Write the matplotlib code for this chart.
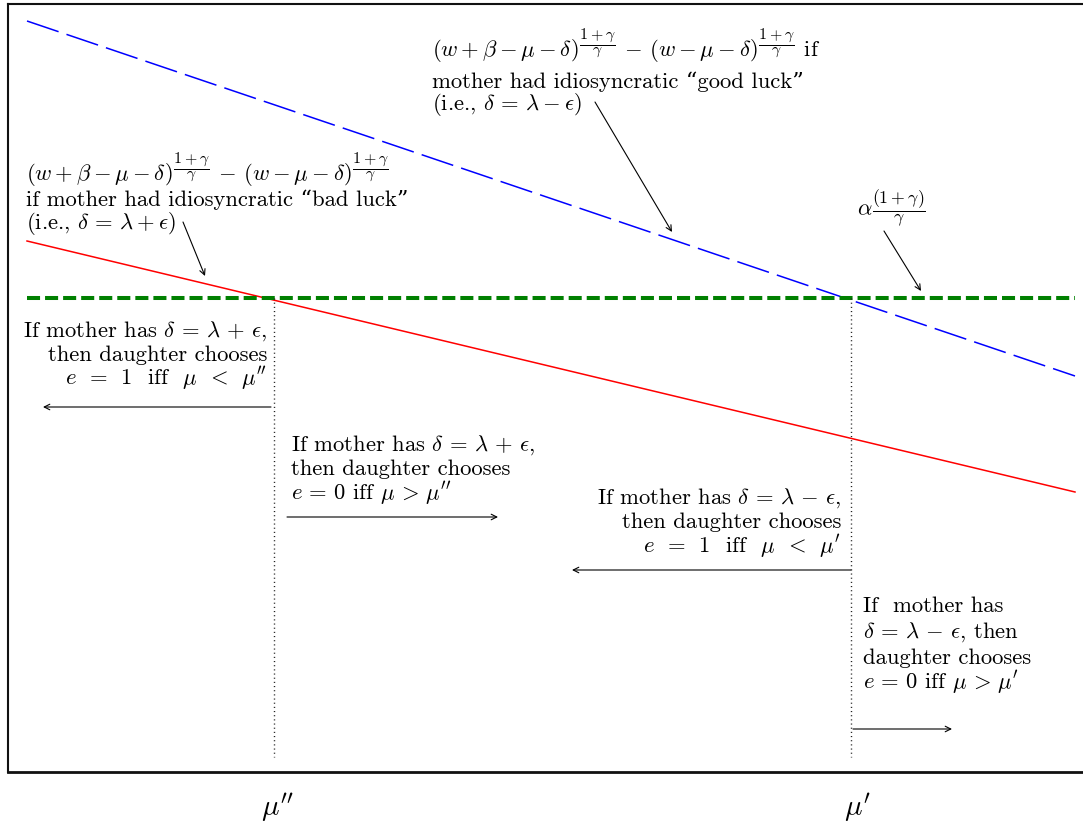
import matplotlib
matplotlib.use("Agg")
import matplotlib.pyplot as plt

plt.rcParams['font.family'] = ['cmr10', 'DejaVu Serif']
plt.rcParams['mathtext.fontset'] = 'cm'
plt.rcParams['axes.unicode_minus'] = False
plt.rcParams['lines.scale_dashes'] = False

# ---- schematic values (horizontal: mu, vertical: payoff, drawn in a canvas-like scale) ----
mu_ends = [27, 1075]
good_luck_curve = [21, 376]      # blue dashed
bad_luck_curve = [241, 492]      # red solid
alpha_level = 298                # green dashed threshold
mu_double_prime = 274
mu_prime = 851
dotted_bottom = 757
tick_labels = [r"$\mu''$", r"$\mu'$"]

W, H = 1083, 825
fig = plt.figure(figsize=(W / 100, H / 100), dpi=100)
ax = fig.add_axes([8 / W, (H - 772) / H, (1110 - 8) / W, (772 - 4) / H])
ax.set_xlim(8, 1110)
ax.set_ylim(772, 4)

for s in ['left', 'top']:
    ax.spines[s].set_linewidth(1.5)
ax.spines['bottom'].set_linewidth(2.0)
ax.spines['right'].set_visible(False)
for s in ax.spines.values():
    s.set_color('#111111')

# curves
ax.plot(mu_ends, good_luck_curve, color='#0000ff', lw=1.1, dashes=(24, 6))
ax.plot(mu_ends, bad_luck_curve, color='#ff0000', lw=1.1)
ax.plot(mu_ends, [alpha_level, alpha_level], color='#008000', lw=2.9, dashes=(9.4, 3.6))

# dotted verticals
for m in [mu_double_prime, mu_prime]:
    ax.plot([m, m], [alpha_level, dotted_bottom], color='#222222', lw=1.0, dashes=(0.8, 2.2))

ax.set_xticks([mu_double_prime + 3, mu_prime + 6])
ax.set_xticklabels(tick_labels, fontsize=21)
ax.tick_params(axis='x', length=0, pad=14)
ax.set_yticks([])

FS = 16.3

def block(x, baselines, lines, ha='left'):
    for yb, t in zip(baselines, lines):
        ax.text(x, yb, t, ha=ha, va='baseline', fontsize=FS, color='black')

frac = r"\dfrac{1+\gamma}{\gamma}"
eq_p = r"$\delta\,=\,\lambda\,+\,\epsilon$"
eq_m = r"$\delta\,=\,\lambda\,-\,\epsilon$"
ie_p = r"$\delta\,=\,\lambda+\epsilon$"
ie_m = r"$\delta\,=\,\lambda-\epsilon$"
head = r"$(w+\beta-\mu-\delta)^{" + frac + r"}\,-\,(w-\mu-\delta)^{" + frac + r"}$"

block(432, [57, 88, 110], [
    head + " if",
    "mother had idiosyncratic “good luck”",
    "(i.e., " + ie_m + ")",
])
block(26, [181, 206, 229], [
    head,
    "if mother had idiosyncratic “bad luck”",
    "(i.e., " + ie_p + ")",
])
ax.text(857, 215, r"$\alpha$", ha='left', va='baseline', fontsize=FS)
ax.text(872, 215, r"$\dfrac{(1+\gamma)}{\gamma}$", ha='left', va='baseline', fontsize=12.8)

e1_pp = r"$e\ \,=\,\ 1$  iff  $\mu\ \,<\,\ \mu''$"
e1_p = r"$e\ \,=\,\ 1$  iff  $\mu\ \,<\,\ \mu'$"
e0_pp = r"$e\,=\,0$ iff $\mu\,>\,\mu''$"
e0_p = r"$e\,=\,0$ iff $\mu\,>\,\mu'$"

block(267, [337, 361, 385], [
    "If mother has " + eq_p + ",",
    "then daughter chooses",
    e1_pp,
], ha='right')
block(291, [451, 475, 500], [
    "If mother has " + eq_p + ",",
    "then daughter chooses",
    e0_pp,
])
block(841, [504, 528, 553], [
    "If mother has " + eq_m + ",",
    "then daughter chooses",
    e1_p,
], ha='right')
block(863, [612, 638, 664, 689], [
    "If  mother has",
    eq_m + ", then",
    "daughter chooses",
    e0_p,
])

arrow = dict(arrowstyle='->', color='black', lw=0.8, shrinkA=0, shrinkB=0)
for (x0, y0, x1, y1) in [
    (271, 407, 43, 407),
    (287, 517, 498, 517),
    (851, 570, 572, 570),
    (853, 729, 952, 729),
    (595, 102, 672, 232),
    (183, 222, 205, 276),
    (884, 231, 921, 291),
]:
    ax.annotate('', xy=(x1, y1), xytext=(x0, y0), arrowprops=arrow)

fig.savefig('out.png', dpi=100)
